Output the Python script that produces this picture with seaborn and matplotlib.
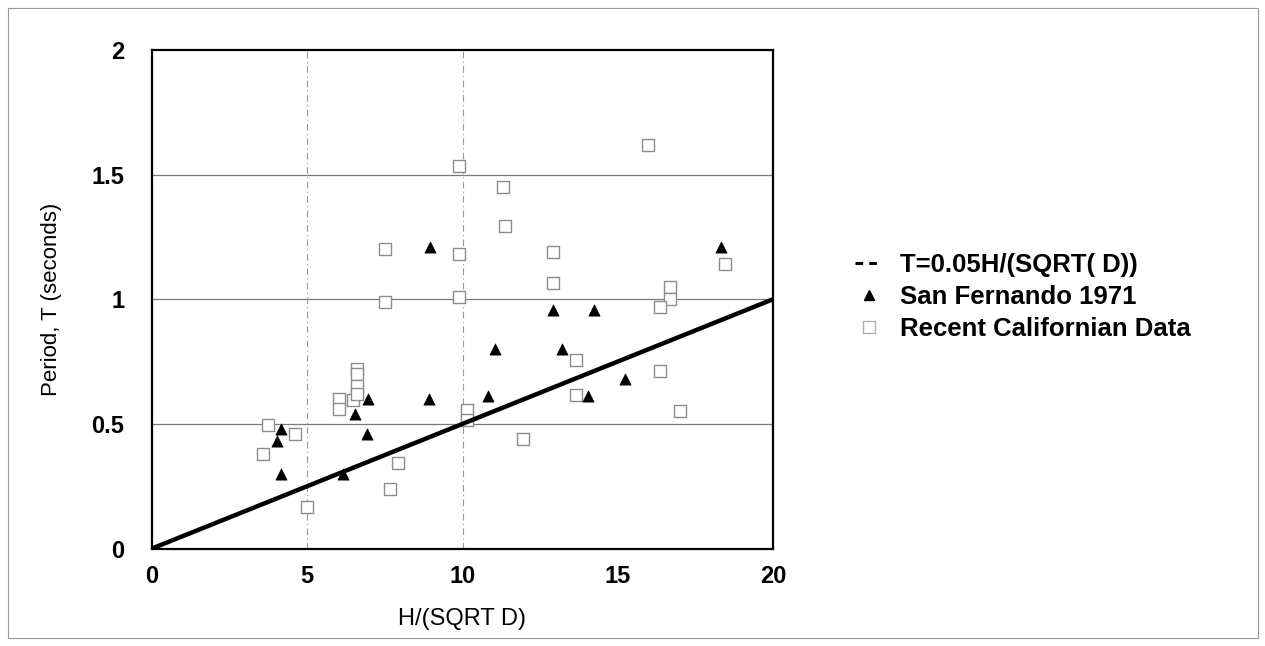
import matplotlib
matplotlib.use("Agg")
import matplotlib.pyplot as plt
from matplotlib.lines import Line2D
from matplotlib.patches import Rectangle
import seaborn as sns
import pandas as pd

# ---- data ----
sf_x = [4.14, 4.01, 4.17, 6.16, 6.54, 6.96, 6.91, 8.93, 8.95, 10.81, 11.05,
        12.93, 13.22, 14.04, 14.25, 15.24, 18.33]
sf_t = [0.48, 0.43, 0.30, 0.30, 0.54, 0.60, 0.46, 0.60, 1.21, 0.61, 0.80,
        0.955, 0.80, 0.61, 0.955, 0.68, 1.21]

ca_x = [3.73, 4.61, 3.56, 4.98, 6.03, 6.03, 6.48, 6.61, 6.61, 6.61, 6.61,
        7.91, 7.66, 7.50, 7.50, 15.97, 11.31, 11.37, 9.90, 12.93, 12.93,
        9.90, 16.68, 16.68, 16.36, 18.45, 13.67, 16.36, 13.67, 17.00,
        10.13, 10.13, 11.96, 9.90]
ca_t = [0.495, 0.459, 0.378, 0.168, 0.60, 0.56, 0.596, 0.72, 0.70, 0.65, 0.62,
        0.345, 0.238, 1.20, 0.99, 1.62, 1.45, 1.295, 1.18, 1.19, 1.066,
        1.01, 1.05, 1.00, 0.967, 1.14, 0.755, 0.713, 0.616, 0.55,
        0.555, 0.515, 0.44, 1.536]

line_x = [0, 20]
line_t = [0.0, 1.0]

x_ticks = [0, 5, 10, 15, 20]
x_ticklabels = ["0", "5", "10", "15", "20"]
y_ticks = [0, 0.5, 1, 1.5, 2]
y_ticklabels = ["0", "0.5", "1", "1.5", "2"]

label_line = "T=0.05H/(SQRT( D))"
label_sf = "San Fernando 1971"
label_ca = "Recent Californian Data"

sns.set_theme(style="white")
plt.rcParams["font.family"] = ["Liberation Sans", "DejaVu Sans"]
plt.rcParams["text.color"] = "black"
plt.rcParams["axes.labelcolor"] = "black"
plt.rcParams["xtick.color"] = "black"
plt.rcParams["ytick.color"] = "black"

fig = plt.figure(figsize=(12.65, 6.46), dpi=100)
ax = fig.add_axes([152/1265, 1-548.5/646, (773-152)/1265, (548.5-50)/646])

# scanned-page border
fig.patches.append(Rectangle((8/1265, 8/646), 1250/1265, 630/646, transform=fig.transFigure,
                             fill=False, edgecolor="#9a9a9a", linewidth=0.8))

# grid
for yv in [0.5, 1.0, 1.5]:
    ax.axhline(yv, color="#7a7a7a", linewidth=0.9, zorder=0)
for xv in [5, 10]:
    ax.axvline(xv, color="#9a9a9a", linewidth=0.8, linestyle=(0, (6, 3, 1, 3)), zorder=0)

df_ca = pd.DataFrame({"x": ca_x, "t": ca_t})
df_sf = pd.DataFrame({"x": sf_x, "t": sf_t})
df_line = pd.DataFrame({"x": line_x, "t": line_t})

sns.scatterplot(data=df_ca, x="x", y="t", ax=ax, marker="s", s=85,
                facecolor="white", edgecolor="#8c8c8c", linewidth=1.0, zorder=2)
sns.lineplot(data=df_line, x="x", y="t", ax=ax, color="black", linewidth=3.2, zorder=3)
sns.scatterplot(data=df_sf, x="x", y="t", ax=ax, marker="^", s=65,
                color="black", edgecolor="black", linewidth=0.5, zorder=4)

ax.set_xlim(0, 20)
ax.set_ylim(0, 2)
ax.set_xticks(x_ticks)
ax.set_xticklabels(x_ticklabels, fontsize=17, fontweight="bold")
ax.set_yticks(y_ticks)
ax.set_yticklabels(y_ticklabels, fontsize=17, fontweight="bold")
ax.tick_params(axis="x", length=0, pad=12)
ax.tick_params(axis="y", length=0, pad=20)
ax.set_xlabel("H/(SQRT D)", fontsize=17, labelpad=14)
ax.set_ylabel("Period, T (seconds)", fontsize=16)
ax.yaxis.set_label_coords(-0.145, 0.5)
for sp in ax.spines.values():
    sp.set_color("black")
    sp.set_linewidth(1.6)

handles = [
    Line2D([], [], color="black", linestyle=(0, (2.5, 2)), linewidth=2.2),
    Line2D([], [], color="black", marker="^", linestyle="none", markersize=7),
    Line2D([], [], color="#b0b0b0", marker="s", markerfacecolor="white",
           markeredgecolor="#b0b0b0", linestyle="none", markersize=8),
]
fig.legend(handles, [label_line, label_sf, label_ca],
           loc="upper left", bbox_to_anchor=(832/1265, 1-230/646),
           frameon=False, prop={"size": 18.5, "weight": "bold"},
           handlelength=1.05, handletextpad=0.68, labelspacing=0.3)

fig.savefig("out.png", dpi=100)
